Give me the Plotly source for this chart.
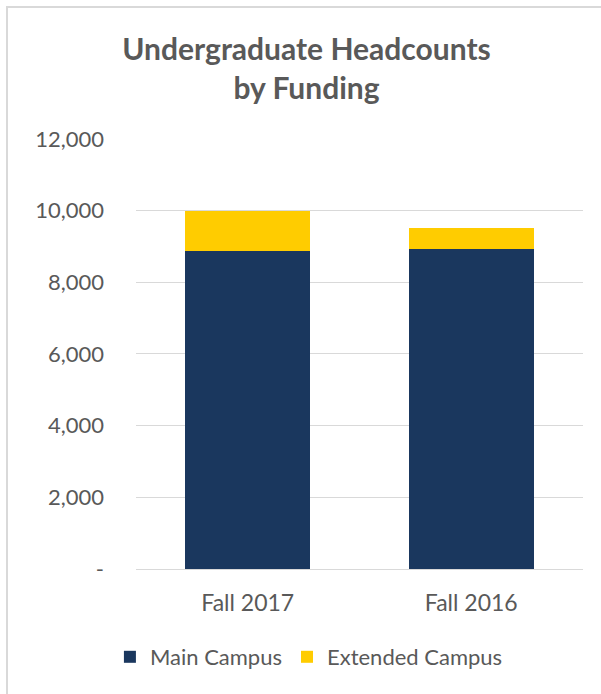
import plotly.graph_objects as go

categories = ["Fall 2017", "Fall 2016"]
main_campus = [8860, 8940]
extended_campus = [1120, 570]
y_tickvals = [0, 2000, 4000, 6000, 8000, 10000, 12000]
y_ticktext = ["-", "2,000", "4,000", "6,000", "8,000", "10,000", "12,000"]

W, H = 601, 694
L, R, T, B = 136, 18, 138, 125
pw, ph = W - L - R, H - T - B

def px_x(x):
    return (x - L) / pw

def px_y(y):
    return (H - B - y) / ph

font = "Lato, 'Open Sans', sans-serif"
grey = "#595959"

fig = go.Figure()
fig.add_trace(go.Bar(name="Main Campus", x=categories, y=main_campus,
                     marker=dict(color="#1a375e", line=dict(width=0))))
fig.add_trace(go.Bar(name="Extended Campus", x=categories, y=extended_campus,
                     marker=dict(color="#ffcc00", line=dict(width=0))))

fig.update_layout(
    width=W, height=H,
    barmode="stack", bargap=0.44,
    margin=dict(l=L, r=R, t=T, b=B),
    paper_bgcolor="white", plot_bgcolor="white",
    font=dict(family=font, color=grey, size=22),
    title=dict(text="<b>Undergraduate Headcounts<br>by Funding</b>",
               x=0.51, xanchor="center", xref="container",
               y=1 - 60 / H, yanchor="middle", yref="container",
               font=dict(family=font, size=30, color=grey)),
    xaxis=dict(showgrid=False, showline=False, ticks="",
               tickfont=dict(size=23, color=grey), ticklabelstandoff=18),
    yaxis=dict(range=[0, 12025], tickvals=y_tickvals, ticktext=y_ticktext,
               showgrid=True, gridcolor="#d9d9d9", gridwidth=1,
               zeroline=True, zerolinecolor="#d9d9d9", zerolinewidth=1,
               showline=False, ticks="", ticklabelstandoff=31,
               tickfont=dict(size=22, color=grey)),
    legend=dict(orientation="h", xref="container", yref="container",
                x=0.514, xanchor="center", y=1 - 657 / H, yanchor="middle",
                font=dict(size=22, color=grey), traceorder="normal",
                itemwidth=30),
    showlegend=True,
)

fig.add_shape(type="rect", xref="paper", yref="paper",
              x0=px_x(7), x1=px_x(603), y0=px_y(696), y1=px_y(7),
              line=dict(color="#d9d9d9", width=2), fillcolor="rgba(0,0,0,0)",
              layer="below")

fig.write_html("out.html", config={"displayModeBar": False},
               post_script="document.body.style.margin='0';")
